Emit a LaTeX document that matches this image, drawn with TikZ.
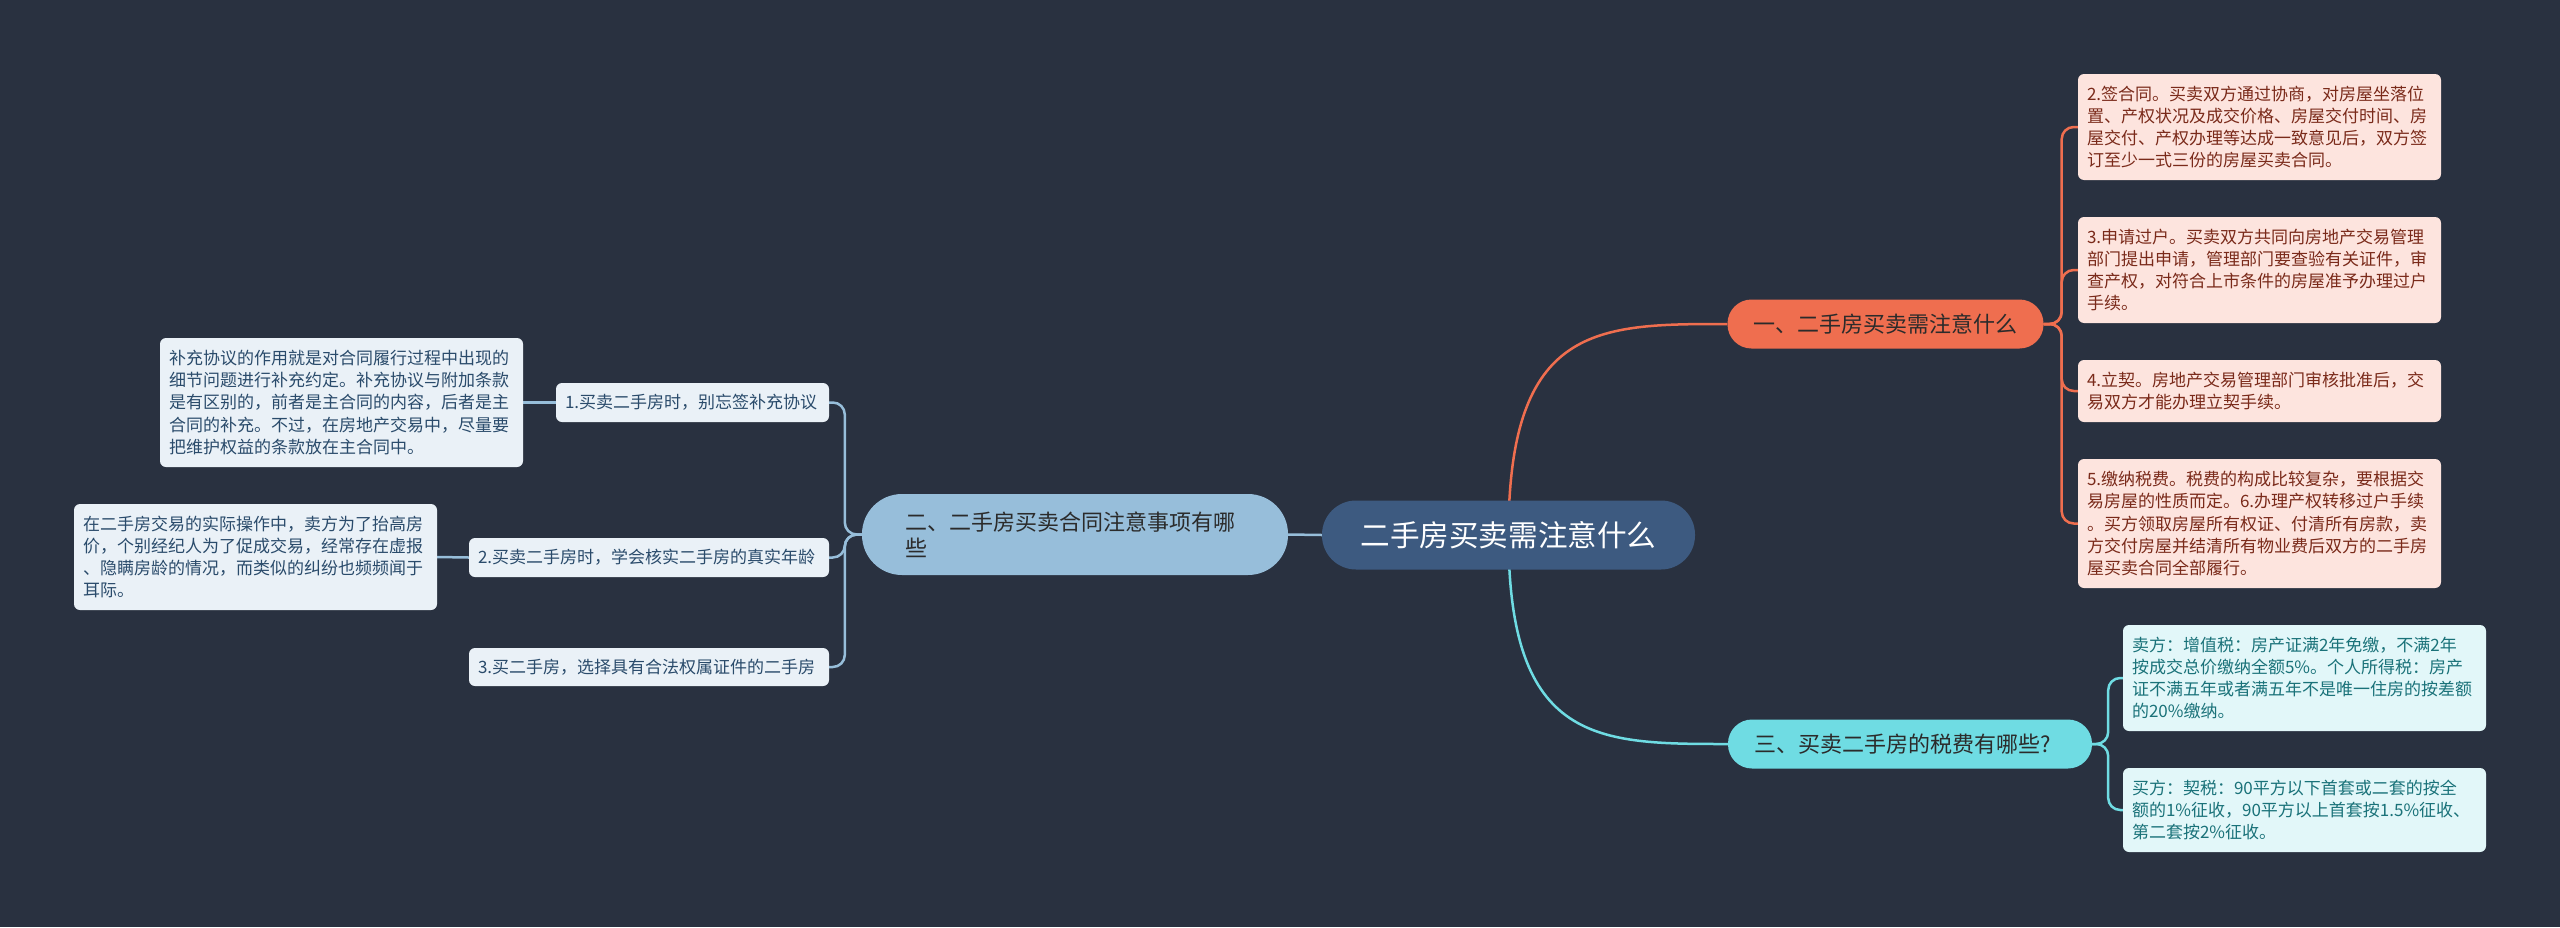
\documentclass[tikz,border=0pt]{standalone}
\usepackage{fontspec}
\newfontfamily\cjk{Noto Sans CJK SC}
\usetikzlibrary{backgrounds}
\definecolor{bgc}{HTML}{293140}
\definecolor{centc}{HTML}{3D5A80}
\definecolor{orc}{HTML}{EF6E4F}
\definecolor{cyc}{HTML}{6FDCE3}
\definecolor{blc}{HTML}{97BEDA}
\definecolor{olf}{HTML}{FDE4DE}
\definecolor{olt}{HTML}{7A2A1A}
\definecolor{clf}{HTML}{E2F7F9}
\definecolor{clt}{HTML}{1A7279}
\definecolor{blf}{HTML}{EAF1F7}
\definecolor{blt}{HTML}{2A4B6B}
\definecolor{brt}{HTML}{2B2B2B}
\begin{document}
\begin{tikzpicture}[x=1pt,y=-1pt,
  leaf/.style={rectangle, rounded corners=6pt, inner xsep=9pt, inner ysep=3pt, align=left,
    font=\cjk\fontsize{17pt}{22.3pt}\selectfont},
  oleaf/.style={leaf, fill=olf, text=olt, text width=345pt},
  cleaf/.style={leaf, fill=clf, text=clt, text width=345pt},
  bleaf/.style={leaf, fill=blf, text=blt},
  branch/.style={rectangle, rounded corners=24pt, minimum height=49pt, inner xsep=26pt, align=left,
    text=brt, font=\cjk\fontsize{22pt}{26pt}\selectfont},
  oline/.style={draw=orc, line width=2.5pt},
  cline/.style={draw=cyc, line width=2.5pt},
  bline/.style={draw=blc, line width=2.5pt}
]
\useasboundingbox (0,0) rectangle (2560,927);
% central
\node[rectangle, rounded corners=34pt, fill=centc, minimum width=373pt, minimum height=69pt,
  text=white, font=\cjk\fontsize{29.6pt}{34pt}\selectfont] (c) at (1508.5,535) {二手房买卖需注意什么};
% branches
\node[branch, fill=orc, text width=264pt] (b1) at (1885.5,324) {一、二手房买卖需注意什么};
\node[branch, fill=cyc, text width=312pt] (b3) at (1910,744) {三、买卖二手房的税费有哪些?};
\node[branch, fill=blc, rounded corners=40pt, minimum height=81pt, inner xsep=43pt, text width=340pt] (b2) at (1075,534.5)
  {二、二手房买卖合同注意事项有哪\\些};
% orange leaves
\node[oleaf, minimum height=106pt] (l1) at (2259.5,127) {2.签合同。买卖双方通过协商，对房屋坐落位\\置、产权状况及成交价格、房屋交付时间、房\\屋交付、产权办理等达成一致意见后，双方签\\订至少一式三份的房屋买卖合同。};
\node[oleaf, minimum height=106pt] (l2) at (2259.5,270) {3.申请过户。买卖双方共同向房地产交易管理\\部门提出申请，管理部门要查验有关证件，审\\查产权，对符合上市条件的房屋准予办理过户\\手续。};
\node[oleaf, minimum height=62pt] (l3) at (2259.5,391) {4.立契。房地产交易管理部门审核批准后，交\\易双方才能办理立契手续。};
\node[oleaf, minimum height=129pt] (l4) at (2259.5,523.5) {5.缴纳税费。税费的构成比较复杂，要根据交\\易房屋的性质而定。6.办理产权转移过户手续\\。买方领取房屋所有权证、付清所有房款，卖\\方交付房屋并结清所有物业费后双方的二手房\\屋买卖合同全部履行。};
% cyan leaves
\node[cleaf, minimum height=106pt] (k1) at (2304.5,678) {卖方：增值税：房产证满2年免缴，不满2年\\按成交总价缴纳全额5\%。个人所得税：房产\\证不满五年或者满五年不是唯一住房的按差额\\的20\%缴纳。};
\node[cleaf, minimum height=84pt] (k2) at (2304.5,810) {买方：契税：90平方以下首套或二套的按全\\额的1\%征收，90平方以上首套按1.5\%征收、\\第二套按2\%征收。};
% blue leaves
\node[bleaf, text width=255pt, minimum height=39pt] (q1) at (692.5,402.5) {1.买卖二手房时，别忘签补充协议};
\node[bleaf, text width=342pt, minimum height=39pt] (q2) at (649,557.5) {2.买卖二手房时，学会核实二手房的真实年龄};
\node[bleaf, text width=342pt, minimum height=38pt] (q3) at (649,667) {3.买二手房，选择具有合法权属证件的二手房};
\node[bleaf, text width=345pt, minimum height=129pt] (d1) at (341.5,402.5) {补充协议的作用就是对合同履行过程中出现的\\细节问题进行补充约定。补充协议与附加条款\\是有区别的，前者是主合同的内容，后者是主\\合同的补充。不过，在房地产交易中，尽量要\\把维护权益的条款放在主合同中。};
\node[bleaf, text width=345pt, minimum height=106pt] (d2) at (255.5,557) {在二手房交易的实际操作中，卖方为了抬高房\\价，个别经纪人为了促成交易，经常存在虚报\\、隐瞒房龄的情况，而类似的纠纷也频频闻于\\耳际。};
\begin{scope}[on background layer]
\fill[bgc] (0,0) rectangle (2560,927);
\draw[oline] (c.center) .. controls (c.center |- b1.west) and ([xshift=-130pt]b1.west) .. (b1.west);
\draw[cline] (c.center) .. controls (c.center |- b3.west) and ([xshift=-130pt]b3.west) .. (b3.west);
\draw[bline] (c.west) -- (b2.east);
\foreach \n in {l1,l2,l3,l4}{
  \draw[oline, rounded corners=12pt] (b1.east) -- ++(18pt,0) |- (\n.west);
}
\foreach \n in {k1,k2}{
  \draw[cline, rounded corners=12pt] (b3.east) -- ++(16pt,0) |- (\n.west);
}
\foreach \n in {q1,q2,q3}{
  \draw[bline, rounded corners=12pt] (b2.west) -- ++(-17pt,0) |- (\n.east);
}
\draw[bline] (q1.west) -- (d1.east);
\draw[bline] (q2.west) -- (d2.east);
\end{scope}
\end{tikzpicture}
\end{document}
